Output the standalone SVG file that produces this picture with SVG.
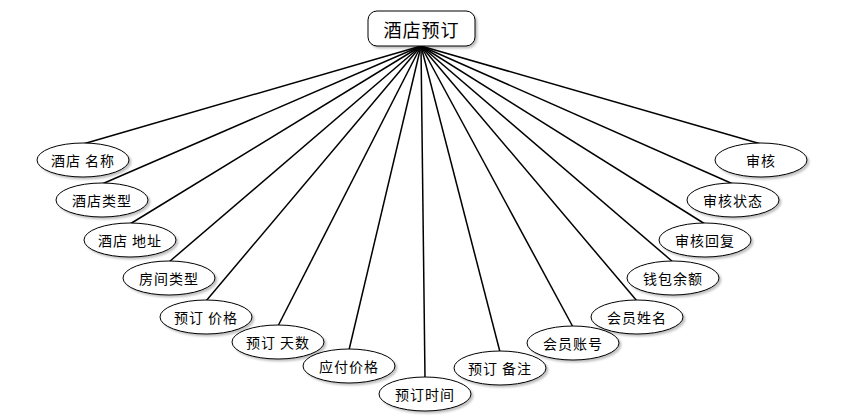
<svg xmlns="http://www.w3.org/2000/svg" width="855" height="420" viewBox="0 0 855 420">
<defs>
<filter id="sh" x="-10%" y="-20%" width="130%" height="150%">
<feGaussianBlur in="SourceAlpha" stdDeviation="1.2"/>
<feOffset dx="1.5" dy="1.5" result="b"/>
<feComponentTransfer><feFuncA type="linear" slope="0.25"/></feComponentTransfer>
<feMerge><feMergeNode/><feMergeNode in="SourceGraphic"/></feMerge>
</filter>
</defs>
<style>
.c line{stroke:#000;stroke-width:1.5;fill:none}
.e{fill:#fff;stroke:#000;stroke-width:1;filter:url(#sh)}
.t{font-family:"Noto Sans CJK SC","Noto Sans",sans-serif;font-size:14px;letter-spacing:1px;text-anchor:middle;dominant-baseline:central;fill:#000}
.tt{font-family:"Noto Sans CJK SC","Noto Sans",sans-serif;font-size:18px;letter-spacing:1px;text-anchor:middle;dominant-baseline:central;fill:#000}
</style>
<rect width="855" height="420" fill="#fff"/>
<g id="connectors" class="c">
<line x1="421" y1="46" x2="83" y2="144"/>
<line x1="421" y1="46" x2="102" y2="184"/>
<line x1="421" y1="46" x2="130" y2="224"/>
<line x1="421" y1="46" x2="169" y2="262"/>
<line x1="421" y1="46" x2="206" y2="301"/>
<line x1="421" y1="46" x2="278" y2="326"/>
<line x1="421" y1="46" x2="349" y2="350"/>
<line x1="421" y1="46" x2="425" y2="378"/>
<line x1="421" y1="46" x2="500" y2="352"/>
<line x1="421" y1="46" x2="573" y2="327"/>
<line x1="421" y1="46" x2="637" y2="301"/>
<line x1="421" y1="46" x2="673" y2="262"/>
<line x1="421" y1="46" x2="705" y2="224"/>
<line x1="421" y1="46" x2="733" y2="184"/>
<line x1="421" y1="46" x2="761" y2="144"/>
</g>
<g id="n0"><rect x="368" y="11" width="107" height="35" rx="9" fill="#fff" stroke="#000" stroke-width="1" filter="url(#sh)"/><text class="tt" x="421.5" y="28.5">酒店预订</text></g>
<g id="n1"><ellipse class="e" cx="83" cy="160" rx="46" ry="17"/><text class="t" x="83" y="160">酒店 名称</text></g>
<g id="n2"><ellipse class="e" cx="102" cy="200" rx="46" ry="17"/><text class="t" x="102" y="200">酒店类型</text></g>
<g id="n3"><ellipse class="e" cx="130" cy="240" rx="46" ry="17"/><text class="t" x="130" y="240">酒店 地址</text></g>
<g id="n4"><ellipse class="e" cx="169" cy="278" rx="46" ry="17"/><text class="t" x="169" y="278">房间类型</text></g>
<g id="n5"><ellipse class="e" cx="206" cy="317" rx="46" ry="17"/><text class="t" x="206" y="317">预订 价格</text></g>
<g id="n6"><ellipse class="e" cx="278" cy="342" rx="46" ry="17"/><text class="t" x="278" y="342">预订 天数</text></g>
<g id="n7"><ellipse class="e" cx="349" cy="366" rx="46" ry="17"/><text class="t" x="349" y="366">应付价格</text></g>
<g id="n8"><ellipse class="e" cx="425" cy="394" rx="46" ry="17"/><text class="t" x="425" y="394">预订时间</text></g>
<g id="n9"><ellipse class="e" cx="500" cy="368" rx="46" ry="17"/><text class="t" x="500" y="368">预订 备注</text></g>
<g id="n10"><ellipse class="e" cx="573" cy="343" rx="46" ry="17"/><text class="t" x="573" y="343">会员账号</text></g>
<g id="n11"><ellipse class="e" cx="637" cy="317" rx="46" ry="17"/><text class="t" x="637" y="317">会员姓名</text></g>
<g id="n12"><ellipse class="e" cx="673" cy="278" rx="46" ry="17"/><text class="t" x="673" y="278">钱包余额</text></g>
<g id="n13"><ellipse class="e" cx="705" cy="240" rx="46" ry="17"/><text class="t" x="705" y="240">审核回复</text></g>
<g id="n14"><ellipse class="e" cx="733" cy="200" rx="46" ry="17"/><text class="t" x="733" y="200">审核状态</text></g>
<g id="n15"><ellipse class="e" cx="761" cy="160" rx="46" ry="17"/><text class="t" x="761" y="160">审核</text></g>
</svg>
